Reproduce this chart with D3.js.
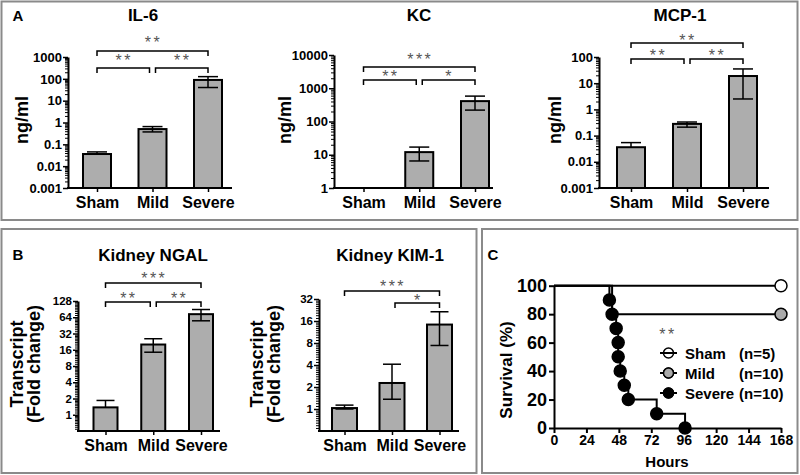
<!DOCTYPE html>
<html><head><meta charset="utf-8">
<script src="https://cdn.jsdelivr.net/npm/d3@7"></script>
<style>body{margin:0;background:#fff} svg{display:block;font-family:"Liberation Sans",Arial,sans-serif}</style>
</head><body><svg id="c" width="800" height="475"></svg>
<script>
// ---------- data ----------
const groups = ["Sham", "Mild", "Severe"];
const il6Mean = [0.036, 0.5, 89], il6Low = [0.036, 0.37, 40], il6High = [0.045, 0.65, 126];
const kcMean = [null, 12, 410], kcLow = [null, 6.5, 220], kcHigh = [null, 17, 580];
const mcpMean = [0.036, 0.28, 18.8], mcpLow = [0.036, 0.21, 2.5], mcpHigh = [0.054, 0.33, 35];
const ngalMean = [1.37, 20, 73], ngalLow = [1.37, 14.4, 55], ngalHigh = [1.84, 25.6, 89];
const kimMean = [1.03, 2.27, 14.3], kimLow = [1.0, 1.36, 7.4], kimHigh = [1.13, 4.1, 21.4];
const il6Ticks = [0.001, 0.01, 0.1, 1, 10, 100, 1000];
const kcTicks = [1, 10, 100, 1000, 10000];
const mcpTicks = [0.001, 0.01, 0.1, 1, 10, 100];
const ngalTicks = [1, 2, 4, 8, 16, 32, 64, 128];
const kimTicks = [1, 2, 4, 8, 16, 32];
const il6Sig = [[0, 1, "**"], [1, 2, "**"], [0, 2, "**"]];
const kcSig = [[0, 1, "**"], [1, 2, "*"], [0, 2, "***"]];
const mcpSig = [[0, 1, "**"], [1, 2, "**"], [0, 2, "**"]];
const ngalSig = [[0, 1, "**"], [1, 2, "**"], [0, 2, "***"]];
const kimSig = [[1, 2, "*"], [0, 2, "***"]];
const survHours = [0, 24, 48, 72, 96, 120, 144, 168];
const survPct = [0, 20, 40, 60, 80, 100];
const shamTimes = [0, 168], shamSurv = [100, 100];
const mildTimes = [0, 43, 168], mildSurv = [100, 80, 80];
const severeTimes = [0, 41, 43, 46, 47.5, 47.5, 49, 52, 55, 76, 97];
const severeSurv = [100, 90, 80, 70, 60, 50, 40, 30, 20, 10, 0];
const legendNames = ["Sham", "Mild", "Severe"];
const legendN = ["(n=5)", "(n=10)", "(n=10)"];
const survSig = "**";

// ---------- drawing ----------
const svg = d3.select("#c");
const BORDER = "#8a8a8a";
svg.append("rect").attr("x", 1.5).attr("y", 1.5).attr("width", 796).attr("height", 218.5)
  .attr("fill", "none").attr("stroke", BORDER).attr("stroke-width", 2);
svg.append("rect").attr("x", 1.5).attr("y", 229).attr("width", 475).attr("height", 244)
  .attr("fill", "none").attr("stroke", BORDER).attr("stroke-width", 2);
svg.append("rect").attr("x", 482).attr("y", 229).attr("width", 315.5).attr("height", 244)
  .attr("fill", "none").attr("stroke", BORDER).attr("stroke-width", 2);

function txt(x, y, s, size, opts = {}) {
  return svg.append("text").attr("x", x).attr("y", y).text(s)
    .attr("font-size", size).attr("font-weight", opts.weight || "bold")
    .attr("text-anchor", opts.anchor || "middle").attr("fill", opts.fill || "#000");
}
txt(18, 21, "A", 15);
txt(18, 260, "B", 15);
txt(493, 260, "C", 15);

function barChart(cfg) {
  const g = svg.append("g");
  const y = (cfg.base === 2 ? d3.scaleLog().base(2) : d3.scaleLog()).domain(cfg.domain).range([cfg.y0, cfg.y1]);
  const x = d3.scalePoint().domain(groups).range(cfg.cx);
  const minor = [];
  if (cfg.base === 2) {
    for (let v = cfg.domain[0]; v < cfg.domain[1]; v *= 2)
      for (let i = 1; i < 10; i++) minor.push(v * (1 + i / 10));
  } else {
    for (let v = cfg.domain[0]; v < cfg.domain[1]; v *= 10)
      for (let m = 2; m < 10; m++) minor.push(v * m);
  }
  g.append("g").attr("transform", `translate(${cfg.ax},0)`)
    .call(d3.axisLeft(y).tickValues(minor).tickSize(3).tickFormat("").tickSizeOuter(0))
    .call(a => a.select(".domain").remove())
    .selectAll("line").attr("stroke-width", 1);
  const ya = g.append("g").attr("transform", `translate(${cfg.ax},0)`)
    .call(d3.axisLeft(y).tickValues(cfg.ticks).tickSize(5).tickPadding(1)
      .tickFormat(d => String(d)).tickSizeOuter(0));
  ya.select(".domain").attr("stroke-width", 2);
  ya.selectAll("line").attr("stroke-width", 1.5);
  ya.selectAll("text").attr("font-size", cfg.tickFont).attr("font-weight", "bold")
    .attr("font-family", "Liberation Sans, Arial, sans-serif").attr("fill", "#000");
  const xa = g.append("g").attr("transform", `translate(0,${cfg.y0})`)
    .call(d3.axisBottom(x).tickSize(4).tickPadding(5).tickSizeOuter(0));
  xa.select(".domain").remove();
  xa.selectAll("line").attr("stroke-width", 1.5);
  xa.selectAll("text").attr("font-size", 16).attr("font-weight", "bold")
    .attr("font-family", "Liberation Sans, Arial, sans-serif").attr("fill", "#000");
  g.append("line").attr("x1", cfg.ax - 1).attr("x2", cfg.xEnd).attr("y1", cfg.y0).attr("y2", cfg.y0)
    .attr("stroke", "#000").attr("stroke-width", 2);
  const rows = groups.map((k, i) => ({ k, m: cfg.mean[i], lo: cfg.low[i], hi: cfg.high[i] }))
    .filter(d => d.m != null);
  g.selectAll("rect.bar").data(rows).join("rect").attr("class", "bar")
    .attr("x", d => x(d.k) - cfg.bw / 2).attr("width", cfg.bw)
    .attr("y", d => y(d.m)).attr("height", d => cfg.y0 - y(d.m))
    .attr("fill", "#adadad").attr("stroke", "#000").attr("stroke-width", 2);
  const eb = g.selectAll("g.eb").data(rows).join("g").attr("class", "eb")
    .attr("stroke", "#000").attr("stroke-width", 1.5);
  eb.append("line").attr("x1", d => x(d.k)).attr("x2", d => x(d.k))
    .attr("y1", d => y(d.lo)).attr("y2", d => y(d.hi));
  eb.append("line").attr("x1", d => x(d.k) - cfg.cap / 2).attr("x2", d => x(d.k) + cfg.cap / 2)
    .attr("y1", d => y(d.hi)).attr("y2", d => y(d.hi));
  eb.filter(d => d.lo < d.m).append("line").attr("x1", d => x(d.k) - cfg.cap / 2).attr("x2", d => x(d.k) + cfg.cap / 2)
    .attr("y1", d => y(d.lo)).attr("y2", d => y(d.lo));
  cfg.sig.forEach((s, i) => {
    const [by, ly] = cfg.sigPos[i];
    const x1 = x(groups[s[0]]) + (s[0] === 1 ? 3 : 0);
    const x2 = x(groups[s[1]]) - (s[1] === 1 ? 3 : 0);
    g.append("path").attr("d", `M${x1},${by + 5}V${by}H${x2}V${by + 5}`)
      .attr("fill", "none").attr("stroke", "#000").attr("stroke-width", 1.5);
    g.append("text").attr("x", (x1 + x2) / 2 + 1).attr("y", ly + 9).text(s[2])
      .attr("text-anchor", "middle").attr("font-size", 16).attr("letter-spacing", 2.5)
      .attr("fill", "#555");
  });
  txt(cfg.titleX, cfg.titleY, cfg.title, 17);
  cfg.ylab.forEach(([lx, s]) => {
    svg.append("text").attr("transform", `translate(${lx},${cfg.ylabY}) rotate(-90)`)
      .attr("dy", "0.35em").attr("text-anchor", "middle").attr("font-size", 18)
      .attr("font-weight", "bold").text(s);
  });
}

barChart({ title: "IL-6", titleX: 143, titleY: 21, mean: il6Mean, low: il6Low, high: il6High,
  domain: [0.001, 1000], ticks: il6Ticks, y0: 188, y1: 57, ax: 68, xEnd: 232, cx: [97, 208],
  bw: 28, cap: 20, tickFont: 13, sig: il6Sig, sigPos: [[68, 57], [68, 57], [51, 39]],
  ylab: [[22, "ng/ml"]], ylabY: 120 });
barChart({ title: "KC", titleX: 419, titleY: 21, mean: kcMean, low: kcLow, high: kcHigh,
  domain: [1, 10000], ticks: kcTicks, y0: 188, y1: 55, ax: 334, xEnd: 493, cx: [363.5, 475],
  bw: 28, cap: 20, tickFont: 13, sig: kcSig, sigPos: [[80, 73], [80, 73], [67, 56]],
  ylab: [[285, "ng/ml"]], ylabY: 120 });
barChart({ title: "MCP-1", titleX: 680, titleY: 21, mean: mcpMean, low: mcpLow, high: mcpHigh,
  domain: [0.001, 100], ticks: mcpTicks, y0: 188, y1: 57, ax: 599, xEnd: 769, cx: [631, 743],
  bw: 28, cap: 20, tickFont: 13, sig: mcpSig, sigPos: [[59, 52], [59, 52], [43, 37]],
  ylab: [[555, "ng/ml"]], ylabY: 120 });
barChart({ title: "Kidney NGAL", titleX: 153, titleY: 261, base: 2, mean: ngalMean, low: ngalLow, high: ngalHigh,
  domain: [0.5, 128], ticks: ngalTicks, y0: 431, y1: 301, ax: 78, xEnd: 220, cx: [105.5, 201],
  bw: 24, cap: 18, tickFont: 11.5, sig: ngalSig, sigPos: [[302, 295], [302, 295], [283, 275]],
  ylab: [[17, "Transcript"], [34, "(Fold change)"]], ylabY: 364 });
barChart({ title: "Kidney KIM-1", titleX: 390, titleY: 261, base: 2, mean: kimMean, low: kimLow, high: kimHigh,
  domain: [0.5, 32], ticks: kimTicks, y0: 431, y1: 299, ax: 319, xEnd: 459, cx: [344.5, 439.5],
  bw: 25, cap: 18, tickFont: 11.5, sig: kimSig, sigPos: [[303, 297], [291, 283]],
  ylab: [[257, "Transcript"], [274, "(Fold change)"]], ylabY: 364 });

// ---------- survival ----------
(function () {
  const g = svg.append("g");
  const x = d3.scaleLinear().domain([0, 168]).range([554, 781]);
  const y = d3.scaleLinear().domain([0, 100]).range([428, 285.7]);
  const xa = g.append("g").attr("transform", "translate(0,428)")
    .call(d3.axisBottom(x).tickValues(survHours).tickSize(5).tickPadding(2).tickSizeOuter(0));
  xa.select(".domain").attr("stroke-width", 2);
  xa.selectAll("line").attr("stroke-width", 2);
  xa.selectAll("text").attr("font-size", 14).attr("font-weight", "bold")
    .attr("font-family", "Liberation Sans, Arial, sans-serif").attr("fill", "#000");
  const ya = g.append("g").attr("transform", "translate(554,0)")
    .call(d3.axisLeft(y).tickValues(survPct).tickSize(5).tickPadding(2).tickSizeOuter(0));
  ya.select(".domain").attr("stroke-width", 2);
  ya.selectAll("line").attr("stroke-width", 2);
  ya.selectAll("text").attr("font-size", 18).attr("font-weight", "bold")
    .attr("font-family", "Liberation Sans, Arial, sans-serif").attr("fill", "#000");
  txt(667, 467, "Hours", 15);
  svg.append("text").attr("transform", "translate(506,370) rotate(-90)").attr("dy", "0.35em")
    .attr("text-anchor", "middle").attr("font-size", 17).attr("font-weight", "bold").text("Survival (%)");

  const line = d3.line().x(d => x(d[0])).y(d => y(d[1])).curve(d3.curveStepAfter);
  const series = [
    { t: shamTimes, s: shamSurv, fill: "#fff", marks: [1] },
    { t: mildTimes, s: mildSurv, fill: "#aaa", marks: [2] },
    { t: severeTimes, s: severeSurv, fill: "#000", marks: d3.range(1, severeTimes.length) }
  ];
  series.forEach(se => {
    const pts = se.t.map((t, i) => [t, se.s[i]]);
    g.append("path").attr("d", line(pts)).attr("fill", "none").attr("stroke", "#000").attr("stroke-width", 2);
  });
  series.forEach(se => {
    g.selectAll(null).data(se.marks.map(i => [se.t[i], se.s[i]])).join("circle")
      .attr("cx", d => x(d[0])).attr("cy", d => y(d[1])).attr("r", 6)
      .attr("fill", se.fill).attr("stroke", "#000").attr("stroke-width", 1.5);
  });
  svg.append("text").attr("x", 668).attr("y", 340).attr("text-anchor", "middle")
    .attr("font-size", 16).attr("letter-spacing", 2.5).attr("fill", "#555").text(survSig);
  legendNames.forEach((n, i) => {
    const cy = 353 + i * 20;
    g.append("circle").attr("cx", 668.5).attr("cy", cy).attr("r", 5)
      .attr("fill", i === 0 ? "none" : series[i].fill).attr("stroke", "#000").attr("stroke-width", 1.5);
    g.append("line").attr("x1", 660).attr("x2", 677).attr("y1", cy).attr("y2", cy)
      .attr("stroke", "#000").attr("stroke-width", 2);
    if (i > 0) g.append("circle").attr("cx", 668.5).attr("cy", cy).attr("r", 5)
      .attr("fill", series[i].fill).attr("stroke", "#000").attr("stroke-width", 1.5);
    txt(685, cy + 5.5, n, 15, { anchor: "start" });
    txt(739, cy + 5.5, legendN[i], 15, { anchor: "start" });
  });
})();
</script></body></html>
